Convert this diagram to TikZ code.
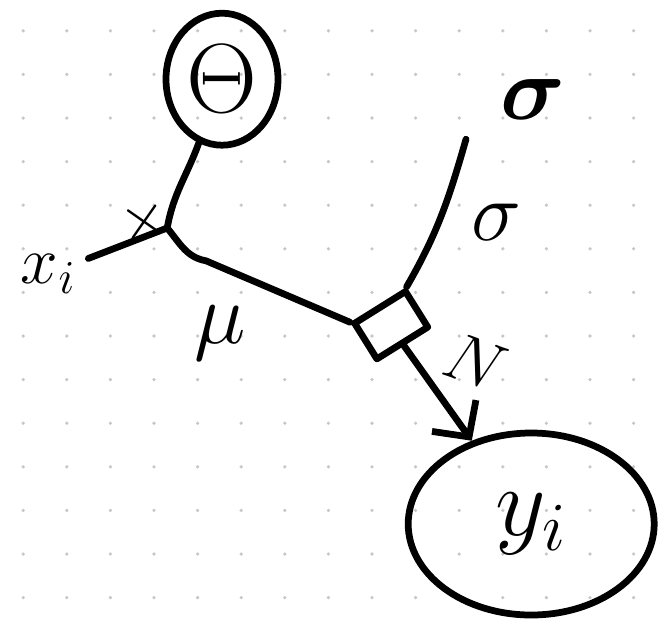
\RequirePackage{fix-cm}
\documentclass[tikz,border=0pt]{standalone}
\usepackage{amsmath}
\usetikzlibrary{arrows.meta,shapes.geometric}
\definecolor{dotgray}{gray}{0.78}
\begin{document}
\begin{tikzpicture}[
    pen/.style={line width=4.8pt,line cap=round,line join=round},
    lbl/.style={inner sep=0pt},
    varnode/.style={pen,draw,ellipse,inner sep=0pt}]
  \def\gap{1.09}
  \useasboundingbox (0,0) rectangle (16.55,-15.525);
  \foreach \i in {0,...,14}
    \foreach \j in {0,...,13}
      \fill[dotgray] (0.58+\gap*\i,-0.77-\gap*\j) circle (0.045);

  \node[varnode,minimum width=2.8cm,minimum height=3.3cm,
        font=\fontsize{70}{70}\selectfont] (theta) at (5.55,-1.98) {$\Theta$};
  \node[varnode,minimum width=6.15cm,minimum height=4.55cm,
        font=\fontsize{70}{70}\selectfont] (yi) at (13.28,-13.1) {$y_i$};
  \node[pen,draw,rectangle,rotate=32,minimum width=1.5cm,minimum height=1.05cm] (fac) at (9.78,-8.13) {};

  \coordinate (junc) at (4.18,-5.70);
  \coordinate (bend) at (5.15,-6.52);
  \coordinate (sigtop) at (11.65,-3.48);

  \node[lbl,font=\fontsize{48}{48}\selectfont] (xi) at (1.2,-6.85) {$x_i$};
  \node[lbl,font=\fontsize{44}{44}\selectfont,rotate=10] (times) at (3.62,-5.55) {$\times$};
  \node[lbl,font=\fontsize{62}{62}\selectfont] (mu) at (5.5,-8.33) {$\mu$};
  \node[lbl,font=\fontsize{64}{64}\selectfont] (sig) at (13.33,-2.5) {$\boldsymbol{\sigma}$};
  \node[lbl,font=\fontsize{60}{60}\selectfont] (siglbl) at (12.4,-5.55) {$\sigma$};
  \node[lbl,font=\fontsize{48}{48}\selectfont,rotate=-20] (norm) at (11.88,-9.05) {$N$};

  \draw[pen] (theta) to[out=-110,in=80] (junc);
  \draw[pen,shorten <=0.35cm] (xi) -- (junc);
  \draw[pen] (junc) to[out=-50,in=170] (bend) -- (fac.north west);
  \draw[pen] (sigtop) to[out=-106,in=60] (fac.north east);
  \draw[pen,-{Straight Barb[length=0.65cm,width=1.35cm]}] (fac.south) -- (yi);
\end{tikzpicture}
\end{document}
